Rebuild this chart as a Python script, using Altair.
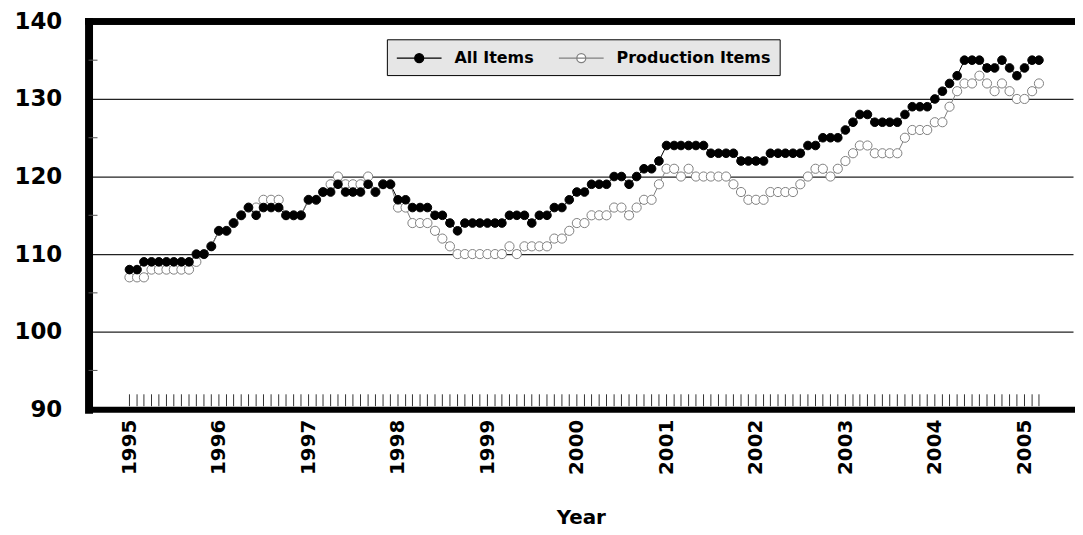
import altair as alt
import pandas as pd

# Monthly index values, Jan 1995 .. Mar 2005
all_items = [
    108, 108, 109, 109, 109, 109, 109, 109, 109, 110, 110, 111,  # 1995
    113, 113, 114, 115, 116, 115, 116, 116, 116, 115, 115, 115,  # 1996
    117, 117, 118, 118, 119, 118, 118, 118, 119, 118, 119, 119,  # 1997
    117, 117, 116, 116, 116, 115, 115, 114, 113, 114, 114, 114,  # 1998
    114, 114, 114, 115, 115, 115, 114, 115, 115, 116, 116, 117,  # 1999
    118, 118, 119, 119, 119, 120, 120, 119, 120, 121, 121, 122,  # 2000
    124, 124, 124, 124, 124, 124, 123, 123, 123, 123, 122, 122,  # 2001
    122, 122, 123, 123, 123, 123, 123, 124, 124, 125, 125, 125,  # 2002
    126, 127, 128, 128, 127, 127, 127, 127, 128, 129, 129, 129,  # 2003
    130, 131, 132, 133, 135, 135, 135, 134, 134, 135, 134, 133,  # 2004
    134, 135, 135,                                               # 2005
]
production_items = [
    107, 107, 107, 108, 108, 108, 108, 108, 108, 109, 110, 111,  # 1995
    113, 113, 114, 115, 116, 116, 117, 117, 117, 115, 115, 115,  # 1996
    117, 117, 118, 119, 120, 119, 119, 119, 120, 118, 119, 119,  # 1997
    116, 116, 114, 114, 114, 113, 112, 111, 110, 110, 110, 110,  # 1998
    110, 110, 110, 111, 110, 111, 111, 111, 111, 112, 112, 113,  # 1999
    114, 114, 115, 115, 115, 116, 116, 115, 116, 117, 117, 119,  # 2000
    121, 121, 120, 121, 120, 120, 120, 120, 120, 119, 118, 117,  # 2001
    117, 117, 118, 118, 118, 118, 119, 120, 121, 121, 120, 121,  # 2002
    122, 123, 124, 124, 123, 123, 123, 123, 125, 126, 126, 126,  # 2003
    127, 127, 129, 131, 132, 132, 133, 132, 131, 132, 131, 130,  # 2004
    130, 131, 132,                                               # 2005
]
series_names = ["All Items", "Production Items"]
year_ticks = list(range(1995, 2006))
y_ticks = [90, 100, 110, 120, 130, 140]
y_minor = [95, 105, 115, 125, 135]

months = pd.date_range("1995-01-01", periods=len(all_items), freq="MS")
df = pd.concat([
    pd.DataFrame({"date": months, "value": all_items, "series": series_names[0], "order": 1}),
    pd.DataFrame({"date": months, "value": production_items, "series": series_names[1], "order": 0}),
])
df_months = pd.DataFrame({"date": months})
df_minor = pd.DataFrame({"v": y_minor})

W, H = 990, 390
FONT = "DejaVu Sans"

xscale = alt.Scale(domain=["1994-07-18", "2005-07-18"])
yscale = alt.Scale(domain=[90, 140], nice=False, zero=False)

x_axis = alt.Axis(
    values=[f"{y}-01-01" for y in year_ticks], format="%Y", labelAngle=-90,
    labelFont=FONT, labelFontSize=20, labelFontWeight="bold", labelColor="black",
    ticks=False, grid=False, domainColor="black", domainWidth=6, domainCap="square",
    labelPadding=10, title="Year", titleFont=FONT, titleFontSize=20,
    titleFontWeight="bold", titleColor="black", titlePadding=33,
)
y_axis = alt.Axis(
    values=y_ticks, labelFont=FONT, labelFontSize=23, labelFontWeight="bold",
    labelColor="black", ticks=False, grid=True, gridColor="#222222", gridWidth=1.3,
    domainColor="black", domainWidth=8, domainCap="square", labelPadding=27, title=None,
)

stroke_scale = alt.Scale(domain=series_names, range=["black", "#808080"])
fill_scale = alt.Scale(domain=series_names, range=["black", "white"])

legend_cfg = dict(
    orient="none", legendX=300, legendY=18, direction="horizontal", title=None,
    symbolType="M-1,0L4,0M2,0A0.5,0.5 0 1,1 1,0A0.5,0.5 0 1,1 2,0Z",
    symbolSize=324, symbolStrokeWidth=1.3, labelFont=FONT, labelFontSize=16,
    labelFontWeight="bold", labelColor="black", labelOffset=39, columnPadding=22,
    padding=9, fillColor="#e6e6e6", strokeColor="black", symbolOpacity=1,
)

base_x = alt.X("date:T", scale=xscale, axis=x_axis)
base_y = alt.Y("value:Q", scale=yscale, axis=y_axis)

minor_ticks = alt.Chart(df_minor).mark_rule(color="#555555", strokeWidth=1).encode(
    y=alt.Y("v:Q", scale=yscale, axis=y_axis), x=alt.value(0), x2=alt.value(9)
)
month_ticks = alt.Chart(df_months).mark_rule(color="#333333", strokeWidth=1).encode(
    x=alt.X("date:T", scale=xscale, axis=x_axis), y=alt.value(H - 15), y2=alt.value(H - 3)
)
top_border = alt.Chart(df_minor).mark_rule(color="black", strokeWidth=6, strokeCap="square").encode(
    x=alt.value(0), x2=alt.value(W), y=alt.value(0)
)

lines = alt.Chart(df).mark_line(strokeWidth=1).encode(
    x=base_x, y=base_y,
    stroke=alt.Stroke("series:N", scale=stroke_scale, legend=alt.Legend(**legend_cfg)),
    order=alt.Order("order:Q"),
)
pts_prod = alt.Chart(df[df.series == series_names[1]]).mark_point(
    opacity=1, size=85, strokeWidth=1, shape="circle"
).encode(
    x=base_x, y=base_y,
    stroke=alt.Stroke("series:N", scale=stroke_scale, legend=alt.Legend(**legend_cfg)),
    fill=alt.Fill("series:N", scale=fill_scale, legend=alt.Legend(**legend_cfg)),
)
pts_all = alt.Chart(df[df.series == series_names[0]]).mark_point(
    opacity=1, size=75, strokeWidth=1, shape="circle"
).encode(
    x=base_x, y=base_y,
    stroke=alt.Stroke("series:N", scale=stroke_scale, legend=alt.Legend(**legend_cfg)),
    fill=alt.Fill("series:N", scale=fill_scale, legend=alt.Legend(**legend_cfg)),
)

chart = alt.layer(
    minor_ticks, month_ticks, top_border, lines, pts_prod, pts_all
).properties(
    width=W, height=H,
    padding={"left": 81, "top": 12, "right": 2, "bottom": 122},
    autosize=alt.AutoSizeParams(type="none"),
    background="white",
).configure_view(stroke=None)

chart.save("out.html", embed_options={"renderer": "svg", "actions": False})
